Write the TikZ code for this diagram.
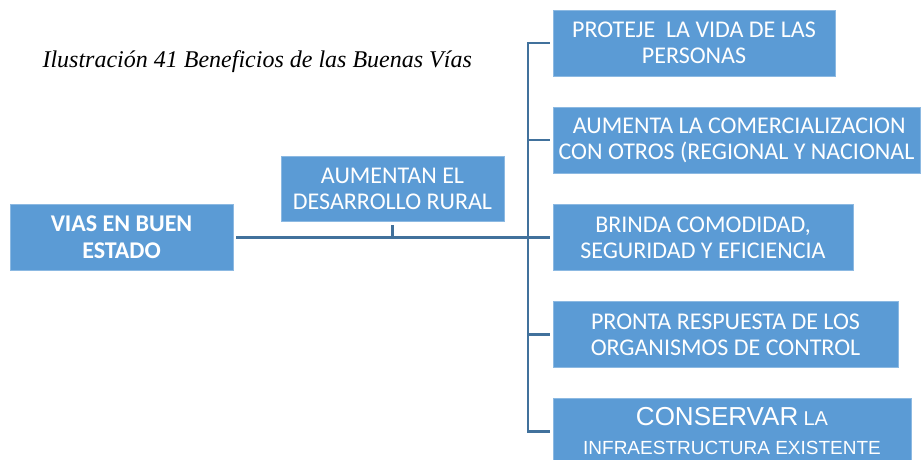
\documentclass[tikz,border=0pt]{standalone}
\usepackage{fontspec}
\setmainfont{Carlito}
\newfontfamily\titlefont{Liberation Serif}
\newfontfamily\arialfont{Liberation Sans}
\usetikzlibrary{positioning,calc}
\definecolor{boxblue}{RGB}{91,155,213}
\definecolor{lineblue}{RGB}{65,113,156}

\begin{document}
\begin{tikzpicture}[x=1pt,y=-1pt,
  box/.style={fill=boxblue,draw=boxblue!70!white,line width=0.6pt,text=white,align=center,
    inner sep=0pt,font=\fontsize{24}{26}\selectfont},
  link/.style={lineblue,line width=2.6pt}]
\useasboundingbox (0,0) rectangle (921,460);
% caption
\node[font=\titlefont\itshape\fontsize{24}{28}\selectfont,anchor=base west] (title) at (39,68)
  {Ilustración 41 Beneficios de las Buenas Vías};
% root and middle box
\node[box,font=\bfseries\fontsize{24}{27}\selectfont,minimum width=223pt,minimum height=66pt] (root) at (121.5,237.5)
  {VIAS EN BUEN\\ESTADO};
\node[box,minimum width=223pt,minimum height=65pt] (mid) at (392.5,188.5)
  {AUMENTAN EL\\DESARROLLO RURAL};
% right column
\node[box,minimum width=282pt,minimum height=66pt] (b1) at (694,43)
  {PROTEJE\ \ LA VIDA DE LAS\\PERSONAS};
\node[box,minimum width=367pt,minimum height=66pt] (b2) at (736.5,140)
  {\ AUMENTA LA COMERCIALIZACION\\CON OTROS (REGIONAL Y NACIONAL};
\node[box,minimum width=300pt,minimum height=66pt] (b3) at (703,237.5)
  {BRINDA COMODIDAD,\\SEGURIDAD Y EFICIENCIA};
\node[box,minimum width=345pt,minimum height=66pt] (b4) at (725.5,334.5)
  {PRONTA RESPUESTA DE LOS\\ORGANISMOS DE CONTROL};
\node[box,minimum width=358pt,minimum height=66pt,font=\arialfont\fontsize{19}{29}\selectfont] (b5) at (732,431.5)
  {{\fontsize{26}{29}\selectfont CONSERVAR} {\fontsize{20}{29}\selectfont LA}\\INFRAESTRUCTURA EXISTENTE};
% connectors
\coordinate (trunk) at (528,0);
\draw[link,shorten <=3pt,shorten >=3pt] (root.east) -- (b3.west);
\draw[link,shorten <=4pt] (mid.south) -- (mid.south |- root.east);
\draw[link,line cap=rect] (trunk |- b1.west) -- (trunk |- b5.west);
\foreach \b in {b1,b2,b4,b5}{
  \draw[link,shorten >=3pt] (trunk |- \b.west) -- (\b.west);
}
\end{tikzpicture}
\end{document}
